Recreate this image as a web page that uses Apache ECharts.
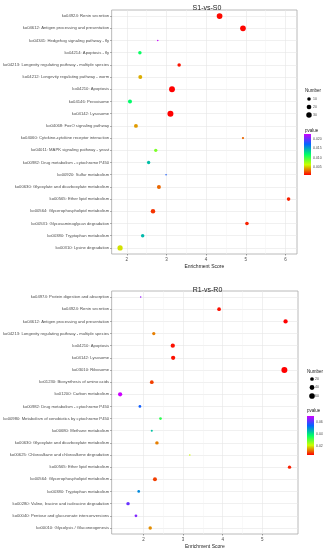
<!DOCTYPE html>
<html><head><meta charset="utf-8">
<script src="https://cdn.jsdelivr.net/npm/echarts@6/dist/echarts.min.js"></script>
<style>html,body{margin:0;padding:0;background:#fff}#c{width:328px;height:550px}</style>
</head><body><div id="c"></div>
<script>
// ---------- S1-vs-S0 ----------
const s1Categories = [
  'ko04924: Renin secretion',
  'ko04612: Antigen processing and presentation',
  'ko04341: Hedgehog signaling pathway - fly',
  'ko04214: Apoptosis - fly',
  'ko04213: Longevity regulating pathway - multiple species',
  'ko04212: Longevity regulating pathway - worm',
  'ko04210: Apoptosis',
  'ko04146: Peroxisome',
  'ko04142: Lysosome',
  'ko04068: FoxO signaling pathway',
  'ko04060: Cytokine-cytokine receptor interaction',
  'ko04011: MAPK signaling pathway - yeast',
  'ko00982: Drug metabolism - cytochrome P450',
  'ko00920: Sulfur metabolism',
  'ko00630: Glyoxylate and dicarboxylate metabolism',
  'ko00565: Ether lipid metabolism',
  'ko00564: Glycerophospholipid metabolism',
  'ko00531: Glycosaminoglycan degradation',
  'ko00380: Tryptophan metabolism',
  'ko00310: Lysine degradation'
];
const s1Score  = [4.34, 4.93, 2.78, 2.33, 3.32, 2.34, 3.14, 2.08, 3.10, 2.23, 4.93, 2.73, 2.55, 2.99, 2.81, 6.08, 2.66, 5.03, 2.40, 1.83];
const s1Pvalue = [0.0010, 0.0009, 0.0226, 0.0115, 0.0012, 0.0045, 0.0008, 0.0118, 0.0008, 0.0041, 0.0030, 0.0084, 0.0140, 0.0178, 0.0030, 0.0015, 0.0019, 0.0015, 0.0142, 0.0056];
const s1Number = [34, 33, 2, 9, 9, 13, 36, 13, 38, 12, 3, 8, 8, 2, 13, 10, 18, 10, 9, 27];
const s1XTicks = [2, 3, 4, 5, 6];
const s1SizeTicks = [10, 20, 30];
const s1PvalueTicks = [0.005, 0.010, 0.015, 0.020];
const s1PvalueTickLabels = ['0.005', '0.010', '0.015', '0.020'];

// ---------- R1-vs-R0 ----------
const r1Categories = [
  'ko04974: Protein digestion and absorption',
  'ko04924: Renin secretion',
  'ko04612: Antigen processing and presentation',
  'ko04213: Longevity regulating pathway - multiple species',
  'ko04210: Apoptosis',
  'ko04142: Lysosome',
  'ko03010: Ribosome',
  'ko01230: Biosynthesis of amino acids',
  'ko01200: Carbon metabolism',
  'ko00982: Drug metabolism - cytochrome P450',
  'ko00980: Metabolism of xenobiotics by cytochrome P450',
  'ko00680: Methane metabolism',
  'ko00630: Glyoxylate and dicarboxylate metabolism',
  'ko00625: Chloroalkane and chloroalkene degradation',
  'ko00565: Ether lipid metabolism',
  'ko00564: Glycerophospholipid metabolism',
  'ko00380: Tryptophan metabolism',
  'ko00280: Valine, leucine and isoleucine degradation',
  'ko00040: Pentose and glucuronate interconversions',
  'ko00010: Glycolysis / Gluconeogenesis'
];
const r1Score  = [1.93, 3.91, 5.59, 2.26, 2.74, 2.75, 5.56, 2.21, 1.41, 1.91, 2.43, 2.21, 2.34, 3.17, 5.69, 2.29, 1.88, 1.61, 1.81, 2.17];
const r1Pvalue = [0.066, 0.006, 0.005, 0.013, 0.006, 0.006, 0.005, 0.009, 0.070, 0.055, 0.034, 0.044, 0.013, 0.021, 0.007, 0.009, 0.050, 0.062, 0.064, 0.014];
const r1Number = [4, 20, 30, 14, 29, 29, 70, 20, 28, 9, 9, 5, 17, 4, 15, 24, 9, 17, 9, 17];
const r1XTicks = [2, 3, 4, 5];
const r1SizeTicks = [20, 40, 60];
const r1PvalueTicks = [0.02, 0.04, 0.06];
const r1PvalueTickLabels = ['0.02', '0.04', '0.06'];

const rainbow = ['#FF0000', '#CCFF00', '#00FF66', '#0066FF', '#CC00FF'];
const FONT = 'Liberation Sans, Arial, sans-serif';

function sizeFn(nArr) {
  const lo = Math.min(...nArr), hi = Math.max(...nArr);
  return n => 1.5 + 4.5 * Math.sqrt(Math.max(0, (n - lo) / (hi - lo)));
}
function extendRange(arr) {
  const lo = Math.min(...arr), hi = Math.max(...arr), pad = (hi - lo) * 0.05;
  return [lo - pad, hi + pad];
}
function mids(t) { const m = []; for (let i = 0; i < t.length - 1; i++) m.push((t[i] + t[i + 1]) / 2); return m; }

const panels = [
  {title: 'S1-vs-S0', cats: s1Categories, score: s1Score, p: s1Pvalue, n: s1Number, xt: s1XTicks,
   sizeTicks: s1SizeTicks, pt: s1PvalueTicks, ptl: s1PvalueTickLabels,
   grid: {left: 107, top: 10, width: 190, height: 244}, titleTop: 0,
   leg: {x: 305, numY: 91, dotX: 309, dotY0: 99, dotStep: 8, labX: 313, pvY: 131, barX: 304, barY: 134, barW: 7, barH: 41}},
  {title: 'R1-vs-R0', cats: r1Categories, score: r1Score, p: r1Pvalue, n: r1Number, xt: r1XTicks,
   sizeTicks: r1SizeTicks, pt: r1PvalueTicks, ptl: r1PvalueTickLabels,
   grid: {left: 107, top: 291, width: 191, height: 243}, titleTop: 282,
   leg: {x: 307, numY: 372, dotX: 312, dotY0: 379, dotStep: 8.5, labX: 315, pvY: 411, barX: 307, barY: 416, barW: 7, barH: 39}}
];

const option = {
  animation: false,
  backgroundColor: '#fff',
  textStyle: {fontFamily: FONT},
  title: [], grid: [], xAxis: [], yAxis: [], series: [], visualMap: [], graphic: []
};

panels.forEach((P, k) => {
  const g = P.grid;
  const xr = extendRange(P.score);
  const pmin = Math.min(...P.p), pmax = Math.max(...P.p);
  const sz = sizeFn(P.n);
  option.title.push({text: P.title, left: g.left + g.width / 2, top: P.titleTop, textAlign: 'center',
    textStyle: {fontSize: 7, fontWeight: 'normal', color: '#222', fontFamily: FONT}});
  option.grid.push({left: g.left, top: g.top, width: g.width, height: g.height, show: true,
    borderColor: '#a8a8a8', borderWidth: 0.8, backgroundColor: '#fff'});
  option.xAxis.push({type: 'value', gridIndex: k, min: xr[0], max: xr[1],
    name: 'Enrichment Score', nameLocation: 'middle', nameGap: 10,
    nameTextStyle: {fontSize: 5, color: '#222', fontFamily: FONT},
    axisLine: {show: false},
    axisTick: {show: true, length: 1.5, customValues: P.xt, lineStyle: {color: '#444', width: 0.5}},
    axisLabel: {fontSize: 4.5, color: '#4d4d4d', margin: 3, customValues: P.xt},
    splitLine: {show: true, lineStyle: {color: '#e6e6e6', width: 0.6}}});
  option.xAxis.push({type: 'value', gridIndex: k, min: xr[0], max: xr[1],
    axisLine: {show: false}, axisLabel: {show: false},
    axisTick: {show: false, customValues: mids(P.xt)},
    splitLine: {show: true, lineStyle: {color: '#f2f2f2', width: 0.5}}});
  option.yAxis.push({type: 'category', gridIndex: k, data: P.cats, inverse: true,
    axisLine: {show: false},
    axisTick: {show: true, length: 1.5, alignWithLabel: true, lineStyle: {color: '#444', width: 0.5}},
    axisLabel: {fontSize: 4.2, color: '#4d4d4d', margin: 2.5, fontFamily: FONT},
    splitLine: {show: true, alignWithLabel: true, lineStyle: {color: '#e6e6e6', width: 0.6}}});
  option.series.push({type: 'scatter', xAxisIndex: 2 * k, yAxisIndex: k,
    data: P.cats.map((c, i) => [P.score[i], c, P.p[i], P.n[i]]),
    encode: {x: 0, y: 1},
    symbolSize: v => sz(v[3]),
    itemStyle: {opacity: 1}});
  option.visualMap.push({type: 'continuous', show: false, seriesIndex: k, dimension: 2,
    min: pmin, max: pmax, inRange: {color: rainbow}});

  // legends (size + colour bar)
  const L = P.leg;
  option.graphic.push({type: 'text', left: L.x, top: L.numY - 3, style: {text: 'Number', fontSize: 4.5, fill: '#222', font: '4.5px ' + FONT}});
  P.sizeTicks.forEach((v, i) => {
    const cy = L.dotY0 + i * L.dotStep;
    option.graphic.push({type: 'circle', shape: {cx: L.dotX, cy: cy, r: sz(v) / 2}, style: {fill: '#000'}});
    option.graphic.push({type: 'text', x: L.labX, y: cy, style: {text: String(v), font: '3.5px ' + FONT, fill: '#4d4d4d', verticalAlign: 'middle'}});
  });
  option.graphic.push({type: 'text', left: L.x, top: L.pvY - 3, style: {text: 'pvalue', font: '4.5px ' + FONT, fill: '#222'}});
  option.graphic.push({type: 'rect', shape: {x: L.barX, y: L.barY, width: L.barW, height: L.barH},
    style: {fill: new echarts.graphic.LinearGradient(0, 0, 0, 1, rainbow.slice().reverse().map((c, i) => ({offset: i / (rainbow.length - 1), color: c})))}});
  P.pt.forEach((v, i) => {
    const y = L.barY + (pmax - v) / (pmax - pmin) * L.barH;
    option.graphic.push({type: 'text', x: L.barX + L.barW + 2, y: y, style: {text: P.ptl[i], font: '3.5px ' + FONT, fill: '#4d4d4d', verticalAlign: 'middle'}});
  });
});

const chart = echarts.init(document.getElementById('c'), null, {renderer: 'canvas'});
chart.setOption(option);
</script></body></html>
